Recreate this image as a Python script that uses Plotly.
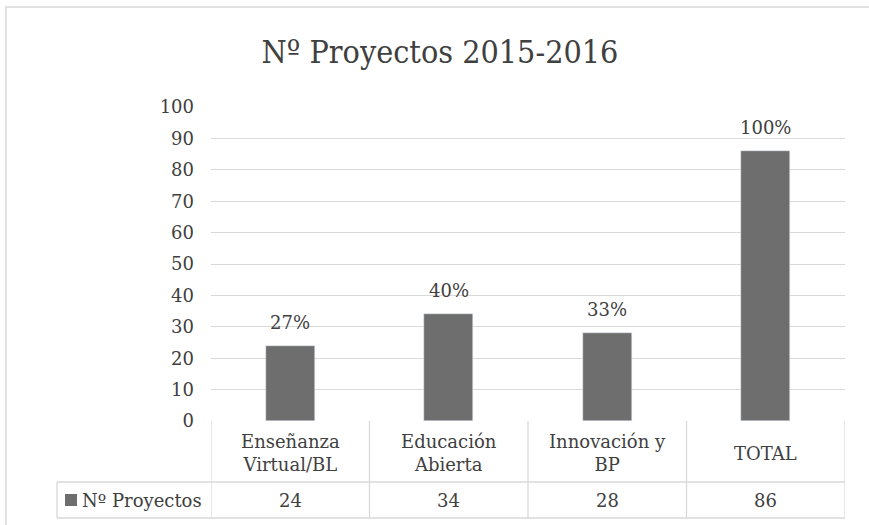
import plotly.graph_objects as go

categories = ["Enseñanza<br>Virtual/BL", "Educación<br>Abierta", "Innovación y<br>BP", "TOTAL"]
values = [24, 34, 28, 86]
pct_labels = ["27%", "40%", "33%", "100%"]
series_name = "Nº Proyectos"
title_text = "Nº Proyectos 2015-2016"
y_ticks = list(range(0, 101, 10))

FONT = "DejaVu Serif"
TFONT = "DejaVu Serif Condensed, DejaVu Serif"
TXT = "#404040"
BAR = "#6e6e6e"
GRID = "#d9d9d9"

W, H = 869, 525
L, R, T, B = 211, 24, 107, 104
PH = H - T - B
PW = W - L - R


def py(p):  # pixel y -> paper y
    return (H - B - p) / PH


def px(p):  # pixel x -> paper x
    return (p - L) / PW


xs = list(range(len(categories)))

fig = go.Figure()
fig.add_trace(go.Bar(x=xs, y=values, marker_color=BAR, width=0.31, name=series_name,
                     showlegend=False, hoverinfo="skip"))

shapes = []
annotations = []

# percentage labels above bars
for x, v, t in zip(xs, values, pct_labels):
    annotations.append(dict(x=x, y=v, xref="x", yref="y", text=t, showarrow=False,
                            yanchor="bottom", yshift=11,
                            font=dict(family=FONT, size=18, color=TXT)))

row1_bot = py(482)
row2_bot = py(518)
line = dict(color=GRID, width=1.3)

# table horizontal lines
shapes.append(dict(type="line", xref="paper", yref="paper", x0=px(57), x1=1,
                   y0=row1_bot, y1=row1_bot, line=line))
shapes.append(dict(type="line", xref="paper", yref="paper", x0=px(57), x1=1,
                   y0=row2_bot, y1=row2_bot, line=line))
# table vertical lines
for i in range(len(xs) + 1):
    shapes.append(dict(type="line", xref="x", yref="paper", x0=i - 0.5, x1=i - 0.5,
                       y0=0, y1=row2_bot, line=line))
shapes.append(dict(type="line", xref="paper", yref="paper", x0=px(57), x1=px(57),
                   y0=row1_bot, y1=row2_bot, line=line))

# category headers and values
for x, c, v in zip(xs, categories, values):
    annotations.append(dict(x=x, y=py(453), xref="x", yref="paper", text=c,
                            showarrow=False, yanchor="middle",
                            font=dict(family=FONT, size=18, color=TXT)))
    annotations.append(dict(x=x, y=(row1_bot + row2_bot) / 2, xref="x", yref="paper",
                            text=str(v), showarrow=False, yanchor="middle",
                            font=dict(family=FONT, size=18, color=TXT)))

# legend key cell
shapes.append(dict(type="rect", xref="paper", yref="paper", x0=px(65), x1=px(77),
                   y0=py(506), y1=py(494), fillcolor=BAR, line=dict(width=0)))
annotations.append(dict(x=px(80), y=(row1_bot + row2_bot) / 2, xref="paper", yref="paper",
                        text=series_name, showarrow=False, xanchor="left", yanchor="middle",
                        font=dict(family=FONT, size=18, color=TXT)))

# outer chart border
shapes.append(dict(type="rect", xref="paper", yref="paper", x0=px(6), x1=px(880),
                   y0=py(540), y1=py(7), line=dict(color=GRID, width=1.5),
                   fillcolor="rgba(0,0,0,0)", layer="below"))

fig.update_layout(
    width=W, height=H,
    margin=dict(l=L, r=R, t=T, b=B),
    paper_bgcolor="white", plot_bgcolor="white",
    title=dict(text=title_text, x=440 / W, xref="container", xanchor="center",
               y=1 - 52 / H, yanchor="middle",
               font=dict(family=TFONT, size=32, color=TXT)),
    xaxis=dict(range=[-0.5, len(xs) - 0.5], showticklabels=False, showgrid=False,
               zeroline=False, showline=False, fixedrange=True),
    yaxis=dict(range=[0, 100], tickvals=y_ticks, showgrid=True, gridcolor=GRID, gridwidth=1.3,
               zeroline=False, showline=False, ticks="", ticklabelstandoff=16,
               tickfont=dict(family=FONT, size=18, color=TXT), fixedrange=True),
    shapes=shapes, annotations=annotations, bargap=0,
)

fig.write_html("out.html", config={"displayModeBar": False},
               post_script="document.body.style.margin='0';")
